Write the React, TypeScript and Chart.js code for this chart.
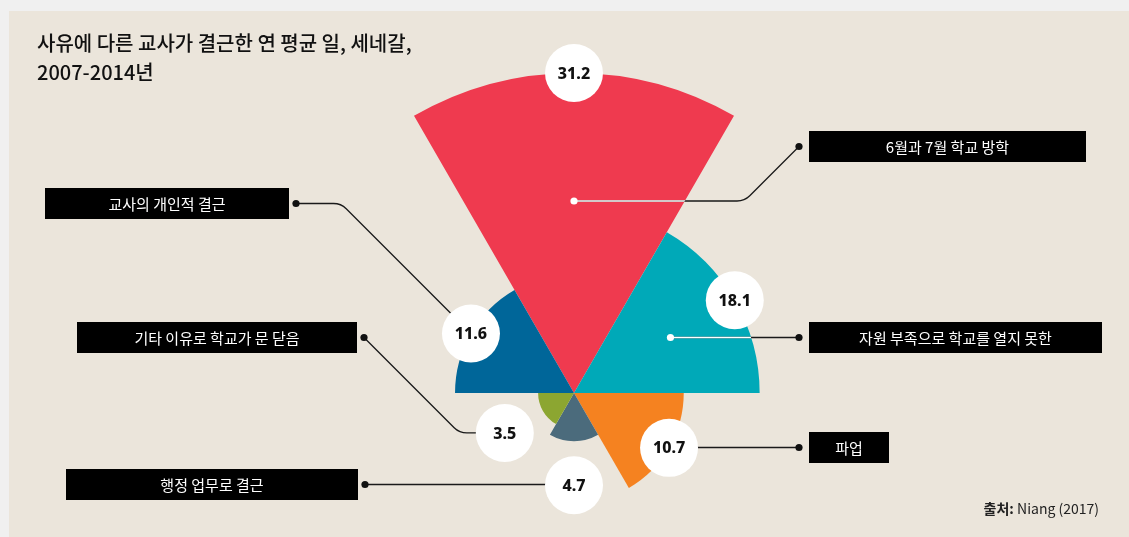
import React, { useEffect, useRef } from "react";
import { Chart, registerables } from "chart.js";
Chart.register(...registerables);

// ---- data ----
const categories = [
  "6월과 7월 학교 방학",
  "자원 부족으로 학교를 열지 못한",
  "파업",
  "행정 업무로 결근",
  "기타 이유로 학교가 문 닫음",
  "교사의 개인적 결근",
];
const values = [31.2, 18.1, 10.7, 4.7, 3.5, 11.6];
const valueLabels = ["31.2", "18.1", "10.7", "4.7", "3.5", "11.6"];
const colors = ["#EF3A4F", "#00A9B8", "#F58220", "#4B6B7C", "#8CA631", "#006699"];
const titleLines = ["사유에 다른 교사가 결근한 연 평균 일, 세네갈,", "2007-2014년"];
const sourceBold = "출처:";
const sourceText = " Niang (2017)";

// ---- layout (not data) ----
const W = 1129;
const H = 537;
const CX = 574;
const CY = 393;
const R = 320;
const LABEL_R = 29;
// callout boxes, indexed as categories
const boxes = [
  { x: 809, y: 131, w: 277, h: 31, side: "right", kind: "anchorElbow" },
  { x: 809, y: 322, w: 293, h: 31, side: "right", kind: "anchorStraight" },
  { x: 809, y: 432, w: 80, h: 31, side: "right", kind: "labelStraight" },
  { x: 66, y: 469, w: 292, h: 31, side: "left", kind: "labelStraight" },
  { x: 77, y: 322, w: 280, h: 31, side: "left", kind: "diagThenFlat" },
  { x: 45, y: 188, w: 244, h: 31, side: "left", kind: "flatThenDiag" },
];

const KFONT = '"Noto Sans CJK KR", "Noto Sans", sans-serif';

function labelPos(arc: any) {
  const mid = (arc.startAngle + arc.endAngle) / 2;
  const r = arc.outerRadius;
  const d = r < 60 ? r + 44 : r;
  return { x: arc.x + Math.cos(mid) * d, y: arc.y + Math.sin(mid) * d };
}
function anchorPos(arc: any) {
  const mid = (arc.startAngle + arc.endAngle) / 2;
  const d = arc.outerRadius * 0.6;
  return { x: arc.x + Math.cos(mid) * d, y: arc.y + Math.sin(mid) * d };
}

function pathPoly(ctx: CanvasRenderingContext2D, pts: { x: number; y: number }[]) {
  ctx.beginPath();
  ctx.moveTo(pts[0].x, pts[0].y);
  for (let i = 1; i < pts.length - 1; i++) {
    ctx.arcTo(pts[i].x, pts[i].y, pts[i + 1].x, pts[i + 1].y, 18);
  }
  ctx.lineTo(pts[pts.length - 1].x, pts[pts.length - 1].y);
}

const decorPlugin = {
  id: "decor",
  beforeDraw(chart: any) {
    const ctx = chart.ctx as CanvasRenderingContext2D;
    ctx.save();
    ctx.fillStyle = "#F0F0F0";
    ctx.fillRect(0, 0, W, H);
    ctx.fillStyle = "#EBE5DB";
    ctx.fillRect(9, 11, W - 9, H - 11);
    // title
    ctx.fillStyle = "#111";
    ctx.font = `500 20px ${KFONT}`;
    ctx.textBaseline = "middle";
    ctx.textAlign = "left";
    ctx.fillText(titleLines[0], 37, 43);
    ctx.fillText(titleLines[1], 37, 72);
    // source
    ctx.font = `400 14px ${KFONT}`;
    const w2 = ctx.measureText(sourceText).width;
    ctx.font = `700 14px ${KFONT}`;
    const w1 = ctx.measureText(sourceBold).width;
    const right = 1099;
    ctx.fillStyle = "#222";
    ctx.fillText(sourceBold, right - w2 - w1, 509);
    ctx.font = `400 14px ${KFONT}`;
    ctx.fillText(sourceText, right - w2, 509);
    ctx.restore();
  },
  afterDatasetsDraw(chart: any) {
    const ctx = chart.ctx as CanvasRenderingContext2D;
    const arcs = chart.getDatasetMeta(0).data;
    ctx.save();
    arcs.forEach((arc: any, i: number) => {
      const b = boxes[i];
      const dot = {
        x: b.side === "right" ? b.x - 10 : b.x + b.w + 7,
        y: b.y + b.h / 2,
      };
      const lab = labelPos(arc);
      const anc = anchorPos(arc);
      let pts: { x: number; y: number }[] = [];
      if (b.kind === "anchorElbow") {
        pts = [anc, { x: dot.x - (anc.y - dot.y), y: anc.y }, dot];
      } else if (b.kind === "anchorStraight") {
        pts = [{ x: anc.x, y: dot.y }, dot];
      } else if (b.kind === "labelStraight") {
        pts = [{ x: lab.x, y: dot.y }, dot];
      } else if (b.kind === "diagThenFlat") {
        pts = [dot, { x: dot.x + (lab.y - dot.y), y: lab.y }, lab];
      } else {
        pts = [dot, { x: lab.x - (lab.y - dot.y), y: dot.y }, lab];
      }
      ctx.lineWidth = 1.3;
      ctx.strokeStyle = "#1A1A1A";
      pathPoly(ctx, pts);
      ctx.stroke();
      // white portion inside own segment
      ctx.save();
      ctx.beginPath();
      ctx.moveTo(arc.x, arc.y);
      ctx.arc(arc.x, arc.y, arc.outerRadius, arc.startAngle, arc.endAngle);
      ctx.closePath();
      ctx.clip();
      ctx.strokeStyle = "#FFFFFF";
      pathPoly(ctx, pts);
      ctx.stroke();
      ctx.restore();
      // dots
      ctx.fillStyle = "#111";
      ctx.beginPath();
      ctx.arc(dot.x, dot.y, 3.6, 0, Math.PI * 2);
      ctx.fill();
      if (b.kind === "anchorElbow" || b.kind === "anchorStraight") {
        ctx.fillStyle = "#FFFFFF";
        ctx.beginPath();
        ctx.arc(pts[0].x, pts[0].y, 3.6, 0, Math.PI * 2);
        ctx.fill();
      }
      // box
      ctx.fillStyle = "#000";
      ctx.fillRect(b.x, b.y, b.w, b.h);
      ctx.fillStyle = "#FFFFFF";
      ctx.font = `400 15px ${KFONT}`;
      ctx.textAlign = "center";
      ctx.textBaseline = "middle";
      ctx.fillText(categories[i], b.x + b.w / 2, b.y + b.h / 2 + 1);
    });
    // value circles
    arcs.forEach((arc: any, i: number) => {
      const p = labelPos(arc);
      ctx.fillStyle = "#FFFFFF";
      ctx.beginPath();
      ctx.arc(p.x, p.y, LABEL_R, 0, Math.PI * 2);
      ctx.fill();
      ctx.fillStyle = "#111";
      ctx.font = `800 16px "Noto Sans", sans-serif`;
      ctx.textAlign = "center";
      ctx.textBaseline = "middle";
      ctx.fillText(valueLabels[i], p.x, p.y + 1);
    });
    ctx.restore();
  },
};

export default function App() {
  const ref = useRef<HTMLCanvasElement | null>(null);
  useEffect(() => {
    if (!ref.current) return;
    const chart = new Chart(ref.current, {
      type: "polarArea",
      data: {
        labels: categories,
        datasets: [
          {
            data: values,
            backgroundColor: colors,
            borderWidth: 0,
          },
        ],
      },
      options: {
        responsive: false,
        animation: false,
        layout: { padding: 0 },
        plugins: {
          legend: { display: false },
          tooltip: { enabled: false },
        },
        scales: {
          r: {
            display: false,
            min: 0,
            max: Math.max(...values),
            startAngle: -30,
            afterFit: (s: any) => {
              s.xCenter = CX;
              s.yCenter = CY;
              s.drawingArea = R;
            },
          },
        },
      } as any,
      plugins: [decorPlugin],
    });
    return () => chart.destroy();
  }, []);
  return (
    <div style={{ position: "fixed", left: 0, top: 0, width: W, height: H }}>
      <canvas ref={ref} width={W} height={H} style={{ display: "block" }} />
    </div>
  );
}
